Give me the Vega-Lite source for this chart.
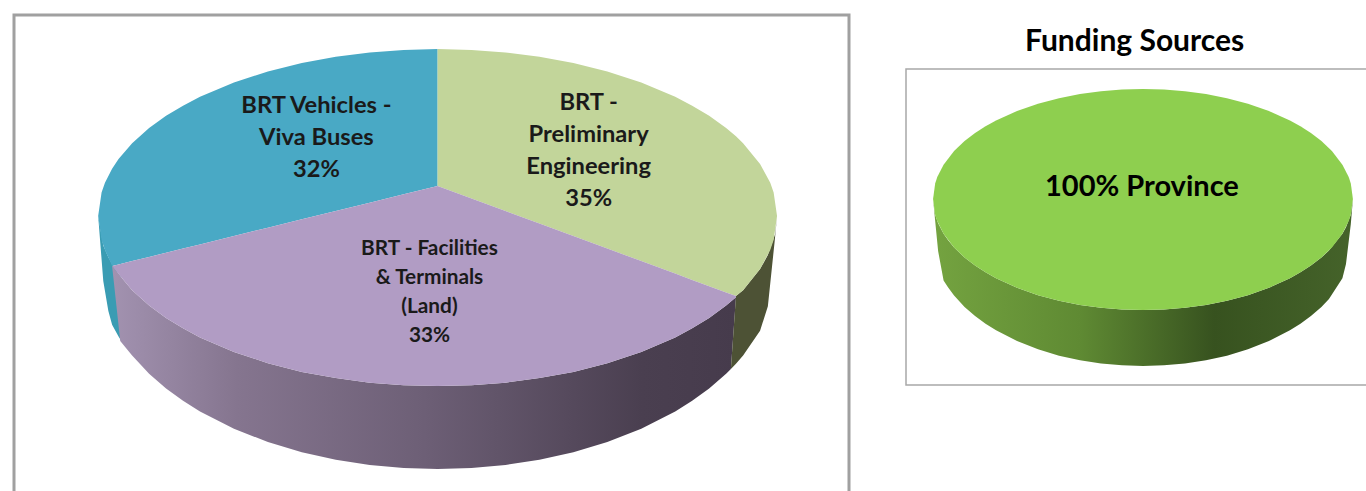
{"$schema":"https://vega.github.io/schema/vega-lite/v6.json","background":"#ffffff","padding":{"left":12,"top":13,"right":0,"bottom":0},"autosize":{"type":"pad"},"spacing":54,"config":{"font":"Lato"},
"datasets":{
"tealWall":[{"x":-1,"y":0,"y2":0},{"x":-0.985,"y":-0.176,"y2":-0.389},{"x":-0.97,"y":-0.247,"y2":-0.569},{"x":-0.959,"y":-0.288,"y2":-0.652},{"x":-0.94,"y":-0.347,"y2":-0.722},{"x":-0.93,"y":-0.374,"y2":-0.754}],
"purpleWall":[{"x":-0.959,"y":-0.299,"y2":-0.299},{"x":-0.935,"y":-0.36,"y2":-0.749},{"x":-0.9,"y":-0.444,"y2":-0.836},{"x":-0.85,"y":-0.536,"y2":-0.945},{"x":-0.8,"y":-0.611,"y2":-1.033},{"x":-0.75,"y":-0.673,"y2":-1.107},{"x":-0.7,"y":-0.727,"y2":-1.171},{"x":-0.6,"y":-0.814,"y2":-1.274},{"x":-0.5,"y":-0.882,"y2":-1.354},{"x":-0.4,"y":-0.934,"y2":-1.415},{"x":-0.3,"y":-0.971,"y2":-1.46},{"x":-0.2,"y":-0.998,"y2":-1.491},{"x":-0.1,"y":-1.013,"y2":-1.509},{"x":0,"y":-1.018,"y2":-1.515},{"x":0.1,"y":-1.013,"y2":-1.509},{"x":0.2,"y":-0.998,"y2":-1.491},{"x":0.3,"y":-0.971,"y2":-1.46},{"x":0.4,"y":-0.934,"y2":-1.415},{"x":0.5,"y":-0.882,"y2":-1.354},{"x":0.6,"y":-0.814,"y2":-1.274},{"x":0.7,"y":-0.727,"y2":-1.171},{"x":0.75,"y":-0.673,"y2":-1.107},{"x":0.8,"y":-0.611,"y2":-1.033},{"x":0.85,"y":-0.536,"y2":-0.945},{"x":0.864,"y":-0.512,"y2":-0.917},{"x":0.879,"y":-0.486,"y2":-0.486}],
"oliveWall":[{"x":0.864,"y":-0.917,"y2":-0.917},{"x":0.879,"y":-0.479,"y2":-0.885},{"x":0.9,"y":-0.444,"y2":-0.836},{"x":0.95,"y":-0.318,"y2":-0.687},{"x":0.973,"y":-0.234,"y2":-0.54},{"x":0.994,"y":-0.111,"y2":-0.132},{"x":1,"y":0,"y2":0}],
"tealFace":[{"x":-1,"y":0,"y2":0},{"x":-0.99,"y":0.141,"y2":-0.144},{"x":-0.98,"y":0.199,"y2":-0.203},{"x":-0.959,"y":0.283,"y2":-0.299},{"x":-0.94,"y":0.341,"y2":-0.29},{"x":-0.9,"y":0.436,"y2":-0.27},{"x":-0.85,"y":0.527,"y2":-0.245},{"x":-0.8,"y":0.6,"y2":-0.22},{"x":-0.75,"y":0.661,"y2":-0.195},{"x":-0.7,"y":0.714,"y2":-0.17},{"x":-0.6,"y":0.8,"y2":-0.12},{"x":-0.5,"y":0.866,"y2":-0.07},{"x":-0.4,"y":0.917,"y2":-0.02},{"x":-0.3,"y":0.954,"y2":0.03},{"x":-0.2,"y":0.98,"y2":0.08},{"x":-0.1,"y":0.995,"y2":0.13},{"x":0,"y":1,"y2":0.18}],
"greenFace":[{"x":0,"y":1,"y2":0.18},{"x":0.1,"y":0.995,"y2":0.105},{"x":0.2,"y":0.98,"y2":0.03},{"x":0.3,"y":0.954,"y2":-0.045},{"x":0.4,"y":0.917,"y2":-0.12},{"x":0.5,"y":0.866,"y2":-0.195},{"x":0.6,"y":0.8,"y2":-0.27},{"x":0.7,"y":0.714,"y2":-0.345},{"x":0.75,"y":0.661,"y2":-0.383},{"x":0.8,"y":0.6,"y2":-0.42},{"x":0.85,"y":0.527,"y2":-0.458},{"x":0.879,"y":0.477,"y2":-0.479},{"x":0.9,"y":0.436,"y2":-0.444},{"x":0.95,"y":0.312,"y2":-0.318},{"x":0.98,"y":0.199,"y2":-0.203},{"x":0.99,"y":0.141,"y2":-0.144},{"x":1,"y":0,"y2":0}],
"purpleFace":[{"x":-0.959,"y":-0.299,"y2":-0.299},{"x":-0.94,"y":-0.29,"y2":-0.347},{"x":-0.9,"y":-0.27,"y2":-0.444},{"x":-0.85,"y":-0.245,"y2":-0.536},{"x":-0.8,"y":-0.22,"y2":-0.611},{"x":-0.75,"y":-0.195,"y2":-0.673},{"x":-0.7,"y":-0.17,"y2":-0.727},{"x":-0.6,"y":-0.12,"y2":-0.814},{"x":-0.5,"y":-0.07,"y2":-0.882},{"x":-0.4,"y":-0.02,"y2":-0.934},{"x":-0.3,"y":0.03,"y2":-0.971},{"x":-0.2,"y":0.08,"y2":-0.998},{"x":-0.1,"y":0.13,"y2":-1.013},{"x":0,"y":0.18,"y2":-1.018},{"x":0.1,"y":0.105,"y2":-1.013},{"x":0.2,"y":0.03,"y2":-0.998},{"x":0.3,"y":-0.045,"y2":-0.971},{"x":0.4,"y":-0.12,"y2":-0.934},{"x":0.5,"y":-0.195,"y2":-0.882},{"x":0.6,"y":-0.27,"y2":-0.814},{"x":0.7,"y":-0.345,"y2":-0.727},{"x":0.75,"y":-0.383,"y2":-0.673},{"x":0.8,"y":-0.42,"y2":-0.611},{"x":0.85,"y":-0.458,"y2":-0.536},{"x":0.879,"y":-0.479,"y2":-0.486}],
"provinceWall":[{"x":-1,"y":0,"y2":0},{"x":-0.99,"y":-0.142,"y2":-0.2},{"x":-0.976,"y":-0.22,"y2":-0.473},{"x":-0.95,"y":-0.315,"y2":-0.74},{"x":-0.929,"y":-0.373,"y2":-0.802},{"x":-0.9,"y":-0.44,"y2":-0.877},{"x":-0.85,"y":-0.532,"y2":-0.981},{"x":-0.8,"y":-0.605,"y2":-1.064},{"x":-0.75,"y":-0.667,"y2":-1.133},{"x":-0.7,"y":-0.72,"y2":-1.193},{"x":-0.6,"y":-0.807,"y2":-1.291},{"x":-0.5,"y":-0.874,"y2":-1.366},{"x":-0.4,"y":-0.925,"y2":-1.424},{"x":-0.3,"y":-0.963,"y2":-1.466},{"x":-0.2,"y":-0.989,"y2":-1.495},{"x":-0.1,"y":-1.004,"y2":-1.512},{"x":0,"y":-1.009,"y2":-1.518},{"x":0.1,"y":-1.004,"y2":-1.512},{"x":0.2,"y":-0.989,"y2":-1.495},{"x":0.3,"y":-0.963,"y2":-1.466},{"x":0.4,"y":-0.925,"y2":-1.424},{"x":0.5,"y":-0.874,"y2":-1.366},{"x":0.6,"y":-0.807,"y2":-1.291},{"x":0.7,"y":-0.72,"y2":-1.193},{"x":0.75,"y":-0.667,"y2":-1.133},{"x":0.8,"y":-0.605,"y2":-1.064},{"x":0.85,"y":-0.532,"y2":-0.981},{"x":0.886,"y":-0.468,"y2":-0.909},{"x":0.95,"y":-0.315,"y2":-0.72},{"x":0.967,"y":-0.257,"y2":-0.591},{"x":0.99,"y":-0.142,"y2":-0.227},{"x":1,"y":0,"y2":0}],
"provinceFace":[{"x":-1,"y":0,"y2":0},{"x":-0.99,"y":0.141,"y2":-0.142},{"x":-0.98,"y":0.199,"y2":-0.201},{"x":-0.95,"y":0.312,"y2":-0.315},{"x":-0.9,"y":0.436,"y2":-0.44},{"x":-0.85,"y":0.527,"y2":-0.532},{"x":-0.8,"y":0.6,"y2":-0.605},{"x":-0.75,"y":0.661,"y2":-0.667},{"x":-0.7,"y":0.714,"y2":-0.72},{"x":-0.6,"y":0.8,"y2":-0.807},{"x":-0.5,"y":0.866,"y2":-0.874},{"x":-0.4,"y":0.917,"y2":-0.925},{"x":-0.3,"y":0.954,"y2":-0.963},{"x":-0.2,"y":0.98,"y2":-0.989},{"x":-0.1,"y":0.995,"y2":-1.004},{"x":0,"y":1,"y2":-1.009},{"x":0.1,"y":0.995,"y2":-1.004},{"x":0.2,"y":0.98,"y2":-0.989},{"x":0.3,"y":0.954,"y2":-0.963},{"x":0.4,"y":0.917,"y2":-0.925},{"x":0.5,"y":0.866,"y2":-0.874},{"x":0.6,"y":0.8,"y2":-0.807},{"x":0.7,"y":0.714,"y2":-0.72},{"x":0.75,"y":0.661,"y2":-0.667},{"x":0.8,"y":0.6,"y2":-0.605},{"x":0.85,"y":0.527,"y2":-0.532},{"x":0.9,"y":0.436,"y2":-0.44},{"x":0.95,"y":0.312,"y2":-0.315},{"x":0.98,"y":0.199,"y2":-0.201},{"x":0.99,"y":0.141,"y2":-0.142},{"x":1,"y":0,"y2":0}]
},
"hconcat":[
{"width":835,"height":490,"view":{"stroke":"#a0a0a0","strokeWidth":3,"fill":"#ffffff"},
"encoding":{"x":{"field":"x","type":"quantitative","scale":{"domain":[-1.248,1.212]},"axis":null},"y":{"field":"y","type":"quantitative","scale":{"domain":[-1.731,1.204]},"axis":null},"y2":{"field":"y2"}},
"layer":[
{"data":{"name":"tealWall"},"mark":{"type":"area","color":"#3a9cb3"}},
{"data":{"name":"purpleWall"},"mark":{"type":"area","color":{"gradient":"linear","x1":0,"y1":0,"x2":1,"y2":0,"stops":[{"offset":0,"color":"#a292b0"},{"offset":0.2,"color":"#85758f"},{"offset":0.5,"color":"#6d5f76"},{"offset":0.85,"color":"#4a3f50"},{"offset":1,"color":"#463b4c"}]}}},
{"data":{"name":"oliveWall"},"mark":{"type":"area","color":"#4d5235"}},
{"data":{"name":"tealFace"},"mark":{"type":"area","color":"#49a9c5"}},
{"data":{"name":"greenFace"},"mark":{"type":"area","color":"#c2d59a"}},
{"data":{"name":"purpleFace"},"mark":{"type":"area","color":"#b19cc4"}},
{"data":{"values":[{"x":-0.357,"y":0.659,"label":"BRT Vehicles -\nViva Buses\n32%"},{"x":0.445,"y":0.676,"label":"BRT -\nPreliminary\nEngineering\n35%"}]},"mark":{"type":"text","font":"Lato","fontWeight":"bold","fontSize":23.7,"lineBreak":"\n","lineHeight":32,"color":"#1a1a1a","baseline":"middle","align":"center"},"encoding":{"text":{"field":"label"},"y2":null}},
{"data":{"values":[{"x":-0.024,"y":-0.195,"label":"BRT - Facilities\n& Terminals\n(Land)\n33%"}]},"mark":{"type":"text","font":"Lato","fontWeight":"bold","fontSize":20.8,"lineBreak":"\n","lineHeight":29.3,"color":"#1a1a1a","baseline":"middle","align":"center"},"encoding":{"text":{"field":"label"},"y2":null}}
]},
{"spacing":0,"vconcat":[
{"width":470,"height":53,"view":{"stroke":null},
"data":{"values":[{"x":-0.04,"y":0.5,"label":"Funding Sources"}]},
"mark":{"type":"text","font":"Lato","fontWeight":"bold","fontSize":30,"color":"#000000","baseline":"middle","align":"center"},
"encoding":{"x":{"field":"x","type":"quantitative","scale":{"domain":[-1.129,1.11]},"axis":null},"y":{"field":"y","type":"quantitative","scale":{"domain":[0,1]},"axis":null},"text":{"field":"label"}}},
{"width":470,"height":316,"view":{"stroke":"#a8a8a8","strokeWidth":1.5,"fill":"#ffffff"},
"encoding":{"x":{"field":"x","type":"quantitative","scale":{"domain":[-1.129,1.11]},"axis":null},"y":{"field":"y","type":"quantitative","scale":{"domain":[-1.691,1.182]},"axis":null},"y2":{"field":"y2"}},
"layer":[
{"data":{"name":"provinceWall"},"mark":{"type":"area","color":{"gradient":"linear","x1":0,"y1":0,"x2":1,"y2":0,"stops":[{"offset":0,"color":"#74a340"},{"offset":0.35,"color":"#5f8a33"},{"offset":0.67,"color":"#37521f"},{"offset":1,"color":"#45632a"}]}}},
{"data":{"name":"provinceFace"},"mark":{"type":"area","color":"#8ecf4f"}},
{"data":{"values":[{"x":-0.005,"y":0.11,"label":"100% Province"}]},"mark":{"type":"text","font":"Lato","fontWeight":"bold","fontSize":29,"color":"#000000","baseline":"middle","align":"center"},"encoding":{"text":{"field":"label"},"y2":null}}
]}
]}
]}
